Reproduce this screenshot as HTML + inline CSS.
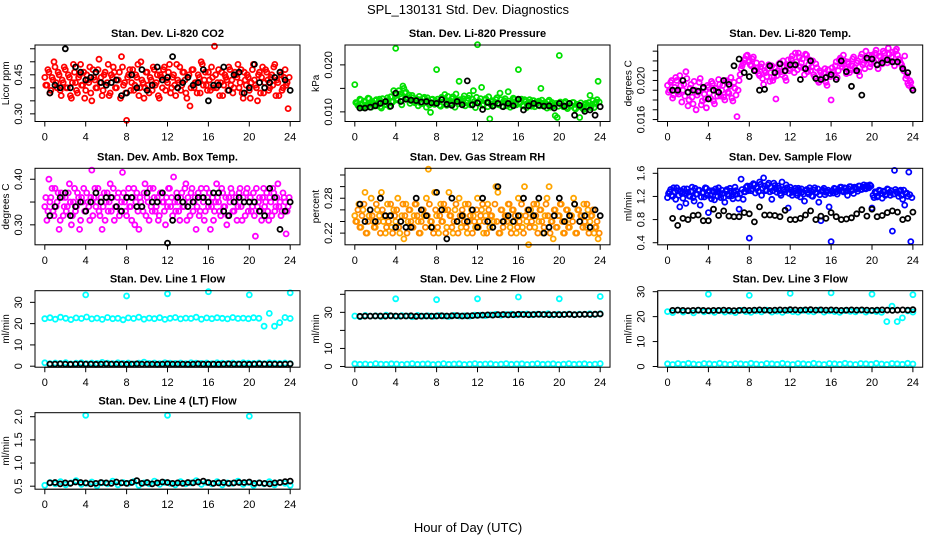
<!DOCTYPE html>
<html><head><meta charset="utf-8"><style>
html,body{margin:0;padding:0;background:#fff;}
svg{display:block;font-family:"Liberation Sans",Arial,sans-serif;}
</style></head><body>
<svg id="chart" width="936" height="540" viewBox="0 0 936 540">
<rect width="936" height="540" fill="#fff"/>
<text x="468" y="14" text-anchor="middle" font-size="13">SPL_130131  Std. Dev. Diagnostics</text>
<text x="468" y="532" text-anchor="middle" font-size="13">Hour of Day (UTC)</text>
</svg>
<script>
const xTicks=[0,4,8,12,16,20,24];
const co2Red=[0.44,0.41,0.46,0.39,0.43,0.48,0.40,0.45,0.37,0.42,0.47,0.40,0.44,0.36,0.49,0.42,0.38,0.45,0.41,0.46,0.39,0.43,0.48,0.35,0.44,0.40,0.47,0.42,0.37,0.45,0.41,0.49,0.38,0.44,0.46,0.40,0.43,0.36,0.48,0.42,0.275,0.45,0.39,0.47,0.41,0.44,0.37,0.50,0.42,0.40,0.46,0.38,0.43,0.48,0.41,0.45,0.36,0.44,0.47,0.39,0.42,0.49,0.40,0.45,0.37,0.43,0.48,0.41,0.46,0.38,0.44,0.33,0.47,0.40,0.42,0.45,0.38,0.49,0.43,0.41,0.46,0.39,0.44,0.56,0.40,0.47,0.42,0.37,0.45,0.43,0.48,0.41,0.38,0.46,0.44,0.40,0.47,0.36,0.43,0.45,0.39,0.42,0.49,0.41,0.35,0.46,0.44,0.38,0.47,0.43,0.40,0.45,0.48,0.37,0.42,0.46,0.39,0.44,0.41,0.32];
const co2Red2=[0.41,0.47,0.38,0.44,0.50,0.42,0.46,0.39,0.43,0.48,0.40,0.45,0.37,0.42,0.46,0.39,0.44,0.49,0.41,0.36,0.45,0.42,0.38,0.47,0.43,0.40,0.51,0.44,0.39,0.46,0.42,0.37,0.45,0.48,0.40,0.43,0.46,0.52,0.41,0.38,0.44,0.47,0.42,0.39,0.45,0.49,0.40,0.43,0.36,0.46,0.41,0.44,0.39,0.47,0.42,0.37,0.45,0.40,0.48,0.43,0.46,0.38,0.44,0.41,0.49,0.42,0.39,0.46,0.43,0.36,0.45,0.40,0.47,0.42,0.38,0.44,0.50,0.41,0.46,0.39,0.43,0.48,0.40,0.45,0.42,0.37,0.46,0.41,0.44,0.39,0.47,0.43,0.40,0.45,0.49,0.42,0.38,0.46,0.41,0.44,0.36,0.47,0.43,0.40,0.45,0.38,0.48,0.42,0.46,0.39,0.44,0.41,0.49,0.43,0.37,0.45,0.40,0.47,0.42,0.44];
const co2Black=[0.38,0.41,0.40,0.55,0.40,0.48,0.46,0.43,0.44,0.46,0.42,0.41,0.42,0.43,0.37,0.38,0.45,0.40,0.47,0.39,0.41,0.48,0.43,0.44,0.52,0.40,0.42,0.44,0.41,0.42,0.47,0.35,0.41,0.41,0.48,0.39,0.45,0.46,0.38,0.40,0.49,0.42,0.40,0.42,0.44,0.46,0.43,0.39];
const presGreen=[0.0158,0.0118,0.0112,0.0125,0.0109,0.0121,0.0115,0.0128,0.0110,0.0119,0.0124,0.0113,0.0127,0.0108,0.0120,0.0116,0.0130,0.0111,0.0122,0.0145,0.0235,0.0125,0.0138,0.0115,0.0150,0.0142,0.0130,0.0118,0.0135,0.0122,0.0128,0.0113,0.0126,0.0119,0.0131,0.0110,0.0124,0.0099,0.0127,0.0116,0.0190,0.0121,0.0112,0.0129,0.0137,0.0114,0.0123,0.0118,0.0132,0.0110,0.0125,0.0165,0.0119,0.0128,0.0113,0.0124,0.0135,0.0117,0.0145,0.0109,0.0243,0.0122,0.0152,0.0116,0.0128,0.0111,0.0085,0.0121,0.0114,0.0126,0.0118,0.0140,0.0112,0.0124,0.0119,0.0143,0.0110,0.0122,0.0127,0.0115,0.0190,0.0120,0.0113,0.0126,0.0109,0.0121,0.0116,0.0124,0.0111,0.0118,0.0123,0.0150,0.0114,0.0120,0.0108,0.0125,0.0117,0.0112,0.0092,0.0088,0.0220,0.0119,0.0111,0.0122,0.0107,0.0118,0.0113,0.0120,0.0106,0.0115,0.0088,0.0112,0.0105,0.0118,0.0110,0.0135,0.0116,0.0109,0.0121,0.0165];
const presGreen2=[0.0120,0.0114,0.0127,0.0117,0.0123,0.0110,0.0129,0.0116,0.0122,0.0113,0.0126,0.0119,0.0111,0.0128,0.0115,0.0124,0.0118,0.0132,0.0121,0.0138,0.0128,0.0145,0.0132,0.0155,0.0140,0.0128,0.0136,0.0124,0.0130,0.0119,0.0125,0.0133,0.0117,0.0128,0.0121,0.0130,0.0115,0.0126,0.0119,0.0123,0.0127,0.0114,0.0131,0.0120,0.0125,0.0133,0.0116,0.0128,0.0122,0.0138,0.0117,0.0126,0.0121,0.0134,0.0119,0.0129,0.0115,0.0127,0.0122,0.0131,0.0118,0.0128,0.0114,0.0125,0.0120,0.0132,0.0116,0.0124,0.0119,0.0130,0.0115,0.0126,0.0121,0.0128,0.0113,0.0123,0.0118,0.0129,0.0116,0.0125,0.0120,0.0127,0.0114,0.0122,0.0118,0.0126,0.0112,0.0124,0.0117,0.0121,0.0113,0.0125,0.0119,0.0116,0.0122,0.0110,0.0120,0.0115,0.0118,0.0112,0.0121,0.0114,0.0119,0.0110,0.0117,0.0113,0.0120,0.0108,0.0116,0.0111,0.0119,0.0107,0.0115,0.0112,0.0120,0.0109,0.0124,0.0118,0.0126,0.0121];
const presBlack=[0.0108,0.0108,0.0110,0.0113,0.0118,0.0122,0.0112,0.0140,0.0122,0.0127,0.0125,0.0124,0.0121,0.0122,0.0119,0.0118,0.0126,0.0116,0.0114,0.0122,0.0115,0.0166,0.0115,0.0119,0.0105,0.0120,0.0112,0.0118,0.0111,0.0118,0.0113,0.0127,0.0104,0.0113,0.0118,0.0114,0.0112,0.0113,0.0108,0.0118,0.0112,0.0118,0.0093,0.0114,0.0101,0.0104,0.0093,0.0111];
const tempMag=[0.0195,0.0190,0.0200,0.0185,0.0203,0.0188,0.0205,0.0178,0.0196,0.0209,0.0174,0.0192,0.0183,0.0199,0.0170,0.0188,0.0202,0.0179,0.0186,0.0172,0.0193,0.0182,0.0197,0.0176,0.0189,0.0201,0.0184,0.0195,0.0180,0.0198,0.0187,0.0203,0.0179,0.0192,0.0163,0.0200,0.0212,0.0218,0.0222,0.0226,0.0220,0.0215,0.0224,0.0210,0.0213,0.0205,0.0217,0.0196,0.0208,0.0212,0.0199,0.0215,0.0203,0.0181,0.0210,0.0218,0.0206,0.0214,0.0200,0.0221,0.0212,0.0225,0.0208,0.0219,0.0228,0.0214,0.0222,0.0206,0.0226,0.0216,0.0210,0.0220,0.0204,0.0213,0.0198,0.0208,0.0201,0.0212,0.0195,0.0206,0.0180,0.0209,0.0215,0.0203,0.0221,0.0217,0.0226,0.0212,0.0219,0.0208,0.0215,0.0224,0.0210,0.0220,0.0205,0.0227,0.0218,0.0230,0.0222,0.0214,0.0226,0.0219,0.0231,0.0212,0.0224,0.0217,0.0228,0.0221,0.0233,0.0220,0.0229,0.0215,0.0232,0.0222,0.0218,0.0213,0.0225,0.0205,0.0195,0.0198];
const tempMag2=[0.0188,0.0198,0.0182,0.0193,0.0200,0.0186,0.0195,0.0190,0.0184,0.0202,0.0180,0.0196,0.0176,0.0190,0.0185,0.0198,0.0175,0.0192,0.0181,0.0195,0.0187,0.0199,0.0179,0.0192,0.0184,0.0196,0.0190,0.0183,0.0200,0.0188,0.0194,0.0182,0.0198,0.0185,0.0190,0.0206,0.0215,0.0221,0.0225,0.0219,0.0216,0.0222,0.0211,0.0218,0.0207,0.0214,0.0202,0.0210,0.0204,0.0216,0.0208,0.0200,0.0213,0.0205,0.0217,0.0209,0.0220,0.0203,0.0215,0.0210,0.0222,0.0216,0.0228,0.0211,0.0224,0.0218,0.0213,0.0227,0.0209,0.0221,0.0214,0.0206,0.0217,0.0200,0.0210,0.0203,0.0208,0.0198,0.0211,0.0204,0.0213,0.0206,0.0219,0.0210,0.0223,0.0214,0.0220,0.0207,0.0217,0.0211,0.0222,0.0213,0.0218,0.0209,0.0224,0.0216,0.0212,0.0221,0.0226,0.0217,0.0222,0.0228,0.0216,0.0225,0.0220,0.0230,0.0223,0.0218,0.0227,0.0224,0.0219,0.0230,0.0226,0.0221,0.0216,0.0210,0.0202,0.0197,0.0200,0.0192];
const tempBlack=[0.0190,0.0190,0.0200,0.0188,0.0190,0.0189,0.0193,0.0181,0.0190,0.0188,0.0200,0.0196,0.0215,0.0222,0.0208,0.0204,0.0210,0.0190,0.0191,0.0215,0.0208,0.0217,0.0210,0.0216,0.0216,0.0201,0.0212,0.0220,0.0202,0.0201,0.0203,0.0206,0.0201,0.0220,0.0209,0.0194,0.0210,0.0185,0.0223,0.0222,0.0216,0.0218,0.0221,0.0219,0.0219,0.0212,0.0208,0.0190];
const ambMag=[0.34,0.31,0.40,0.36,0.33,0.38,0.35,0.29,0.37,0.32,0.36,0.34,0.39,0.30,0.35,0.33,0.37,0.29,0.36,0.38,0.33,0.35,0.31,0.42,0.36,0.34,0.38,0.32,0.29,0.37,0.35,0.33,0.39,0.36,0.31,0.34,0.37,0.33,0.415,0.35,0.32,0.38,0.34,0.36,0.30,0.37,0.29,0.35,0.33,0.39,0.36,0.31,0.34,0.38,0.33,0.36,0.32,0.37,0.35,0.30,0.34,0.38,0.36,0.405,0.33,0.35,0.31,0.37,0.34,0.39,0.36,0.32,0.38,0.35,0.29,0.37,0.33,0.36,0.31,0.38,0.34,0.29,0.36,0.33,0.39,0.35,0.32,0.37,0.34,0.30,0.36,0.38,0.33,0.35,0.31,0.37,0.34,0.36,0.32,0.38,0.35,0.33,0.37,0.275,0.34,0.36,0.31,0.38,0.35,0.33,0.36,0.32,0.37,0.34,0.39,0.35,0.33,0.36,0.28,0.34];
const ambMag2=[0.36,0.33,0.35,0.38,0.32,0.34,0.37,0.31,0.36,0.34,0.33,0.37,0.35,0.32,0.38,0.34,0.36,0.31,0.35,0.33,0.37,0.34,0.36,0.32,0.38,0.35,0.33,0.36,0.34,0.31,0.37,0.35,0.33,0.38,0.34,0.36,0.32,0.35,0.37,0.33,0.36,0.34,0.31,0.38,0.35,0.33,0.36,0.34,0.37,0.32,0.35,0.38,0.33,0.36,0.34,0.31,0.37,0.35,0.33,0.36,0.38,0.34,0.32,0.35,0.37,0.33,0.36,0.34,0.38,0.31,0.35,0.37,0.33,0.36,0.34,0.32,0.38,0.35,0.33,0.36,0.37,0.34,0.31,0.35,0.36,0.33,0.38,0.34,0.36,0.32,0.35,0.37,0.33,0.36,0.34,0.38,0.31,0.35,0.37,0.33,0.36,0.34,0.32,0.38,0.35,0.33,0.36,0.34,0.37,0.31,0.35,0.38,0.33,0.36,0.34,0.32,0.37,0.35,0.33,0.36];
const ambBlack=[0.32,0.34,0.36,0.37,0.32,0.34,0.35,0.33,0.35,0.37,0.35,0.36,0.36,0.34,0.33,0.36,0.36,0.34,0.34,0.37,0.35,0.35,0.37,0.26,0.31,0.36,0.35,0.34,0.35,0.36,0.36,0.35,0.37,0.37,0.33,0.32,0.35,0.36,0.35,0.35,0.35,0.33,0.32,0.38,0.36,0.29,0.33,0.35];
const rhOrange=[0.25,0.24,0.27,0.23,0.26,0.29,0.22,0.25,0.28,0.24,0.23,0.26,0.25,0.29,0.24,0.22,0.27,0.25,0.23,0.26,0.24,0.28,0.22,0.25,0.21,0.27,0.24,0.26,0.23,0.25,0.27,0.24,0.22,0.26,0.25,0.28,0.33,0.24,0.23,0.29,0.25,0.22,0.27,0.24,0.26,0.23,0.29,0.25,0.22,0.26,0.24,0.28,0.23,0.25,0.27,0.22,0.24,0.26,0.25,0.23,0.28,0.24,0.26,0.22,0.25,0.27,0.23,0.25,0.24,0.30,0.29,0.22,0.26,0.24,0.25,0.27,0.23,0.26,0.24,0.22,0.28,0.25,0.23,0.30,0.24,0.20,0.26,0.25,0.23,0.27,0.24,0.26,0.22,0.25,0.28,0.30,0.24,0.21,0.26,0.23,0.25,0.27,0.22,0.24,0.26,0.23,0.25,0.28,0.22,0.26,0.24,0.25,0.27,0.23,0.26,0.24,0.25,0.22,0.23,0.21];
const rhOrange2=[0.24,0.26,0.23,0.25,0.27,0.22,0.24,0.26,0.25,0.23,0.27,0.24,0.22,0.26,0.25,0.23,0.24,0.27,0.22,0.25,0.26,0.23,0.24,0.27,0.25,0.22,0.26,0.24,0.23,0.27,0.25,0.22,0.24,0.26,0.23,0.25,0.27,0.24,0.22,0.26,0.23,0.25,0.24,0.27,0.22,0.26,0.25,0.23,0.24,0.27,0.22,0.25,0.26,0.24,0.23,0.27,0.25,0.22,0.24,0.26,0.23,0.25,0.27,0.24,0.22,0.26,0.25,0.23,0.27,0.24,0.22,0.26,0.23,0.25,0.24,0.27,0.22,0.26,0.25,0.23,0.24,0.27,0.22,0.25,0.26,0.23,0.24,0.27,0.25,0.22,0.26,0.24,0.23,0.27,0.25,0.22,0.24,0.26,0.23,0.25,0.27,0.24,0.22,0.26,0.23,0.25,0.24,0.27,0.22,0.26,0.25,0.23,0.24,0.27,0.22,0.25,0.26,0.23,0.24,0.22];
const rhBlack=[0.27,0.24,0.26,0.24,0.28,0.25,0.25,0.23,0.24,0.23,0.23,0.28,0.26,0.25,0.23,0.29,0.26,0.21,0.28,0.24,0.25,0.24,0.26,0.23,0.28,0.24,0.23,0.30,0.24,0.25,0.24,0.25,0.28,0.26,0.25,0.28,0.22,0.23,0.25,0.28,0.24,0.25,0.27,0.24,0.25,0.23,0.26,0.25];
const flowBlue=[1.18,1.28,1.22,1.35,1.15,1.30,1.02,1.25,1.33,1.08,1.27,1.20,1.36,1.12,1.24,1.31,1.05,1.26,1.19,1.34,0.92,1.22,1.30,1.14,1.28,1.35,1.18,1.25,1.10,1.32,1.21,1.29,1.16,1.36,1.24,0.98,1.50,1.15,1.28,1.38,0.48,1.30,1.42,1.26,1.35,1.45,1.22,1.52,1.30,1.40,1.28,1.15,1.43,1.33,1.38,1.25,1.45,1.31,1.40,1.00,1.36,1.22,1.30,1.26,1.34,1.19,1.28,1.12,1.32,1.24,1.30,1.20,1.35,1.27,1.10,0.78,1.31,1.23,1.28,1.02,0.42,1.26,1.33,1.24,1.30,1.36,1.28,1.34,1.22,1.37,1.30,1.25,1.35,1.29,1.38,1.32,1.40,1.33,1.37,1.40,1.00,1.18,1.26,1.21,1.30,1.17,1.28,1.24,1.32,1.22,0.60,1.65,1.28,1.20,1.31,1.15,1.05,1.26,1.62,0.42];
const flowBlue2=[1.25,1.32,1.20,1.28,1.35,1.22,1.30,1.17,1.26,1.33,1.21,1.29,1.18,1.34,1.24,1.31,1.19,1.27,1.35,1.22,1.30,1.16,1.28,1.33,1.20,1.26,1.31,1.18,1.29,1.24,1.34,1.21,1.27,1.30,1.17,1.25,1.32,1.28,1.36,1.30,1.38,1.33,1.40,1.35,1.29,1.41,1.34,1.38,1.31,1.43,1.36,1.30,1.39,1.27,1.34,1.22,1.32,1.28,1.35,1.25,1.31,1.27,1.34,1.22,1.29,1.33,1.24,1.30,1.27,1.35,1.21,1.31,1.26,1.33,1.23,1.29,1.34,1.27,1.31,1.25,1.30,1.34,1.28,1.32,1.36,1.30,1.35,1.29,1.33,1.37,1.31,1.36,1.33,1.38,1.32,1.36,1.34,1.39,1.35,1.38,1.22,1.28,1.19,1.31,1.25,1.29,1.22,1.33,1.27,1.30,1.24,1.32,1.26,1.29,1.22,1.31,1.25,1.20,1.23,1.18];
const flowBlack=[0.82,0.70,0.82,0.80,0.87,0.88,0.78,0.78,0.98,0.87,0.95,0.86,0.85,0.85,0.92,0.90,0.76,1.02,0.88,0.88,0.87,0.85,0.96,0.80,0.80,0.82,0.88,0.95,0.80,0.86,0.82,0.92,0.85,0.80,0.81,0.83,0.90,0.97,0.86,0.98,0.85,0.87,0.92,0.95,0.93,0.80,0.82,0.93];
const line1High=[22.3,22.8,22.1,23.0,22.5,21.9,22.7,22.4,23.1,22.2,22.6,22.0,22.9,22.3,22.5,21.8,22.7,22.4,23.0,22.1,22.6,22.3,22.8,22.0,22.5,22.9,22.2,22.6,22.4,23.0,22.1,22.7,22.3,22.8,22.5,22.2,22.9,22.4,22.6,22.3,22.8,22.5,18.8,24.8,18.8,20.5,22.9,22.4];
const line1Low=[1.6,1.2,1.5,1.3,1.7,1.1,1.4,1.6,1.2,1.5,1.3,1.8,1.4,1.2,1.6,1.3,1.5,1.1,1.4,1.9,1.3,1.5,1.2,1.6,1.4,1.3,1.5,1.2,1.6,1.4,1.3,1.5,1.2,1.6,1.4,1.3,1.5,1.2,1.6,1.4,1.3,1.5,1.2,1.6,1.4,1.3,1.5,1.2];
const line1Black=[1.0,1.0,1.1,1.0,0.9,1.0,1.1,1.0,1.0,0.9,1.0,1.1,1.0,1.0,1.0,0.9,1.0,1.1,1.0,1.0,1.0,0.9,1.0,1.1,1.0,1.0,1.0,0.9,1.0,1.1,1.0,1.0,1.0,0.9,1.0,1.1,1.0,1.0,1.0,0.9,1.0,1.1,1.0,1.0,1.0,0.9,1.0,1.1];
const line1Out=[33.5,33.0,34.0,35.0,33.5,34.5];
const line2High=[28.0,27.6,28.3,27.9,28.1,27.7,28.4,28.0,27.8,28.2,28.0,27.6,28.3,27.9,28.1,27.8,28.2,28.0,27.7,28.3,28.0,28.1,27.9,28.4,28.5,28.2,28.6,28.9,28.4,28.8,29.0,28.6,28.9,29.1,28.7,29.0,28.8,29.2,28.6,29.0,28.8,29.1,28.7,29.0,28.9,29.2,28.8,29.3];
const line2Low=[1.5,1.2,1.4,1.1,1.6,1.3,1.2,1.5,1.4,1.1,1.3,1.6,1.2,1.4,1.5,1.1,1.3,1.6,1.2,1.4,1.5,1.1,1.3,1.6,1.2,1.4,1.5,1.1,1.3,1.6,1.2,1.4,1.5,1.1,1.3,1.6,1.2,1.4,1.5,1.1,1.3,1.6,1.2,1.4,1.5,1.1,1.3,1.6];
const line2Black=[27.8,27.9,27.9,28.0,28.0,27.9,28.1,28.0,27.9,28.0,28.1,27.8,27.9,28.0,27.9,28.0,28.1,28.0,28.1,28.2,28.0,28.1,28.2,28.3,28.5,28.6,28.5,28.7,28.8,28.6,28.7,28.9,28.8,28.7,28.8,28.9,28.8,28.7,28.8,28.7,28.8,28.9,28.7,28.8,28.9,28.8,29.0,29.1];
const line2Out=[37.5,37.0,37.5,38.5,37.5,38.8];
const line3High=[22.0,21.6,22.6,21.8,22.3,21.5,22.5,21.9,22.2,21.7,22.4,21.8,22.1,21.6,22.5,22.0,21.7,22.3,21.9,22.6,21.8,22.2,21.7,22.4,22.0,21.8,22.5,22.1,21.9,22.6,21.8,22.3,22.0,21.7,22.4,22.1,21.9,22.5,21.8,22.3,22.0,21.7,18.0,24.2,18.0,19.5,22.3,21.8];
const line3Low=[1.1,0.8,1.2,0.9,1.3,1.0,0.8,1.2,1.1,0.9,1.3,1.0,0.8,1.2,1.1,0.9,1.3,1.0,0.8,1.2,1.1,0.9,1.3,1.0,0.8,1.2,1.1,0.9,1.3,1.0,0.8,1.2,1.1,0.9,1.3,1.0,0.8,1.2,1.1,0.9,1.3,1.0,0.8,1.2,1.1,0.9,1.3,1.0];
const line3Black=[22.5,22.6,22.5,22.4,22.5,22.6,22.5,22.4,22.5,22.5,22.6,22.5,22.4,22.5,22.6,22.5,22.6,22.7,22.6,22.5,22.6,22.7,22.6,22.8,22.7,22.6,22.7,22.8,22.6,22.7,22.6,22.7,22.6,22.5,22.6,22.7,22.6,22.7,22.6,22.5,22.6,22.7,22.6,22.5,22.6,22.7,22.6,22.8];
const line3Out=[29.0,28.5,29.3,29.5,29.0,28.8];
const line4Cyan=[0.52,0.58,0.55,0.60,0.53,0.57,0.62,0.54,0.56,0.59,0.51,0.57,0.55,0.61,0.53,0.58,0.56,0.60,0.52,0.57,0.55,0.61,0.54,0.58,0.56,0.53,0.60,0.55,0.57,0.62,0.54,0.58,0.55,0.60,0.53,0.57,0.56,0.61,0.54,0.58,0.52,0.57,0.55,0.60,0.53,0.58,0.56,0.52];
const line4Black=[0.57,0.58,0.55,0.57,0.56,0.59,0.58,0.57,0.55,0.56,0.58,0.57,0.56,0.59,0.57,0.56,0.58,0.62,0.56,0.58,0.55,0.57,0.59,0.58,0.56,0.57,0.56,0.58,0.57,0.59,0.61,0.58,0.56,0.57,0.58,0.56,0.57,0.58,0.58,0.59,0.56,0.57,0.56,0.55,0.57,0.58,0.60,0.61];
const line4Out=[2.03,2.03,2.01];
const outHours6=[4,8,12,16,20,24];
const outHours3=[4,12,20];

const NS='http://www.w3.org/2000/svg';
const svg=document.getElementById('chart');
function mk(tag,attrs,parent){const e=document.createElementNS(NS,tag);for(const k in attrs)e.setAttribute(k,attrs[k]);(parent||svg).appendChild(e);return e;}
const colL=[35,345,657.7],rowT=[45,168.3,290.7,412.7],W=265,H=76.5;
function denseT(n,off){const a=[];for(let i=0;i<n;i++)a.push(i*0.2+(off||0));return a;}
function halfT(n){const a=[];for(let i=0;i<n;i++)a.push(0.5*(i+1));return a;}
function flowT(n){const a=[];for(let i=0;i<n;i++)a.push(i*24/(n-1));return a;}

function panel(cfg){
  const L=colL[cfg.col],T=rowT[cfg.row];
  const g=mk('g',{});
  
  
  const xs=t=>L+(t+0.96)*W/25.92;
  const ys=v=>T+H-(v-cfg.ylim[0])/(cfg.ylim[1]-cfg.ylim[0])*H;
  const ttl=mk('text',{x:L+W/2,y:T-8,'text-anchor':'middle','font-size':'11','font-weight':'bold'},g);
  ttl.textContent=cfg.title;
  
  
  const pts=mk('g',{fill:'none','stroke-width':'1.8'},g);
  
  
  cfg.series.forEach(s=>{
    s.v.forEach((v,i)=>{
      const c=mk('circle',{cx:xs(s.t[i]).toFixed(1),cy:ys(v).toFixed(1),r:'2.5',stroke:s.c},pts);
      
      
    });
  });
  const box=mk('rect',{x:L,y:T,width:W,height:H,fill:'none',stroke:'#000','stroke-width':'1'},g);
  
  
  const B=T+H;
  const xa=mk('g',{stroke:'#000','stroke-width':'1'},g);
  
  
  mk('line',{x1:xs(xTicks[0]),x2:xs(xTicks[xTicks.length-1]),y1:B,y2:B},xa);
  xTicks.forEach(t=>{
    mk('line',{x1:xs(t),x2:xs(t),y1:B,y2:B+5},xa);
    const tx=mk('text',{x:xs(t),y:B+19,'text-anchor':'middle','font-size':'11',stroke:'none',fill:'#000'},xa);
    tx.textContent=t;
    
    
  });
  const ya=mk('g',{stroke:'#000','stroke-width':'1'},g);
  
  
  const yt=cfg.yticks;
  mk('line',{x1:L,x2:L,y1:ys(yt[0]),y2:ys(yt[yt.length-1])},ya);
  yt.forEach((v,i)=>{
    const y=ys(v);
    mk('line',{x1:L-5,x2:L,y1:y,y2:y},ya);
    if(cfg.ylabels[i]){
      const tx=mk('text',{x:L-13,y:y,'text-anchor':'middle','font-size':'11',stroke:'none',fill:'#000',transform:`rotate(-90 ${L-13} ${y})`},ya);
      tx.textContent=cfg.ylabels[i];
      
      
    }
  });
  const yx=L-26,yy=T+H/2;
  const ytl=mk('text',{x:yx,y:yy,'text-anchor':'middle','font-size':'10',transform:`rotate(-90 ${yx} ${yy})`},g);
  ytl.textContent=cfg.ytitle;
  
  
}

panel({name:'panel-co2',title:'Stan. Dev. Li-820 CO2',col:0,row:0,ylim:[0.2706,0.5645],yticks:[0.30,0.35,0.40,0.45,0.50,0.55],ylabels:['0.30','','','0.45','',''],ytitle:'Licor ppm',
 series:[{t:denseT(co2Red.length),v:co2Red,c:'#ff0000'},{t:denseT(co2Red2.length,0.1),v:co2Red2,c:'#ff0000'},{t:halfT(co2Black.length),v:co2Black,c:'#000'}]});
panel({name:'panel-pressure',title:'Stan. Dev. Li-820 Pressure',col:1,row:0,ylim:[0.00795,0.02423],yticks:[0.010,0.015,0.020],ylabels:['0.010','','0.020'],ytitle:'kPa',
 series:[{t:denseT(presGreen.length),v:presGreen,c:'#00e000'},{t:denseT(presGreen2.length,0.1),v:presGreen2,c:'#00e000'},{t:halfT(presBlack.length),v:presBlack,c:'#000'}]});
panel({name:'panel-temp',title:'Stan. Dev. Li-820 Temp.',col:2,row:0,ylim:[0.0158,0.02363],yticks:[0.016,0.017,0.018,0.019,0.020,0.021,0.022,0.023],ylabels:['0.016','','','','0.020','','',''],ytitle:'degrees C',
 series:[{t:denseT(tempMag.length),v:tempMag,c:'#ff00ff'},{t:denseT(tempMag2.length,0.1),v:tempMag2,c:'#ff00ff'},{t:halfT(tempBlack.length),v:tempBlack,c:'#000'}]});
panel({name:'panel-amb-box-temp',title:'Stan. Dev. Amb. Box Temp.',col:0,row:1,ylim:[0.2562,0.424],yticks:[0.30,0.35,0.40],ylabels:['0.30','','0.40'],ytitle:'degrees C',
 series:[{t:denseT(ambMag.length),v:ambMag,c:'#ff00ff'},{t:denseT(ambMag2.length,0.1),v:ambMag2,c:'#ff00ff'},{t:halfT(ambBlack.length),v:ambBlack,c:'#000'}]});
panel({name:'panel-gas-rh',title:'Stan. Dev. Gas Stream RH',col:1,row:1,ylim:[0.1999,0.3315],yticks:[0.22,0.24,0.26,0.28,0.30,0.32],ylabels:['0.22','','','0.28','',''],ytitle:'percent',
 series:[{t:denseT(rhOrange.length),v:rhOrange,c:'#ffa500'},{t:denseT(rhOrange2.length,0.1),v:rhOrange2,c:'#ff8c00'},{t:halfT(rhBlack.length),v:rhBlack,c:'#000'}]});
panel({name:'panel-sample-flow',title:'Stan. Dev. Sample Flow',col:2,row:1,ylim:[0.364,1.6865],yticks:[0.4,0.8,1.2,1.6],ylabels:['0.4','0.8','1.2','1.6'],ytitle:'ml/min',
 series:[{t:denseT(flowBlue.length),v:flowBlue,c:'#0000ff'},{t:denseT(flowBlue2.length,0.1),v:flowBlue2,c:'#0000ff'},{t:halfT(flowBlack.length),v:flowBlack,c:'#000'}]});
panel({name:'panel-line1-flow',title:'Stan. Dev. Line 1 Flow',col:0,row:2,ylim:[-0.47,35.47],yticks:[0,10,20,30],ylabels:['0','10','20','30'],ytitle:'ml/min',
 series:[{t:flowT(line1High.length),v:line1High,c:'#00ffff'},{t:flowT(line1Low.length),v:line1Low,c:'#00ffff'},{t:outHours6,v:line1Out,c:'#00ffff'},{t:halfT(line1Black.length),v:line1Black,c:'#000'}]});
panel({name:'panel-line2-flow',title:'Stan. Dev. Line 2 Flow',col:1,row:2,ylim:[-0.4,42],yticks:[0,10,20,30,40],ylabels:['0','10','','30',''],ytitle:'ml/min',
 series:[{t:flowT(line2High.length),v:line2High,c:'#00ffff'},{t:flowT(line2Low.length),v:line2Low,c:'#00ffff'},{t:outHours6,v:line2Out,c:'#00ffff'},{t:halfT(line2Black.length),v:line2Black,c:'#000'}]});
panel({name:'panel-line3-flow',title:'Stan. Dev. Line 3 Flow',col:2,row:2,ylim:[-0.28,30.4],yticks:[0,10,20,30],ylabels:['0','10','20','30'],ytitle:'ml/min',
 series:[{t:flowT(line3High.length),v:line3High,c:'#00ffff'},{t:flowT(line3Low.length),v:line3Low,c:'#00ffff'},{t:outHours6,v:line3Out,c:'#00ffff'},{t:halfT(line3Black.length),v:line3Black,c:'#000'}]});
panel({name:'panel-line4-flow',title:'Stan. Dev. Line 4 (LT) Flow',col:0,row:3,ylim:[0.435,2.0866],yticks:[0.5,1.0,1.5,2.0],ylabels:['0.5','1.0','1.5','2.0'],ytitle:'ml/min',
 series:[{t:flowT(line4Cyan.length),v:line4Cyan,c:'#00ffff'},{t:outHours3,v:line4Out,c:'#00ffff'},{t:halfT(line4Black.length),v:line4Black,c:'#000'}]});
</script>
</body></html>
